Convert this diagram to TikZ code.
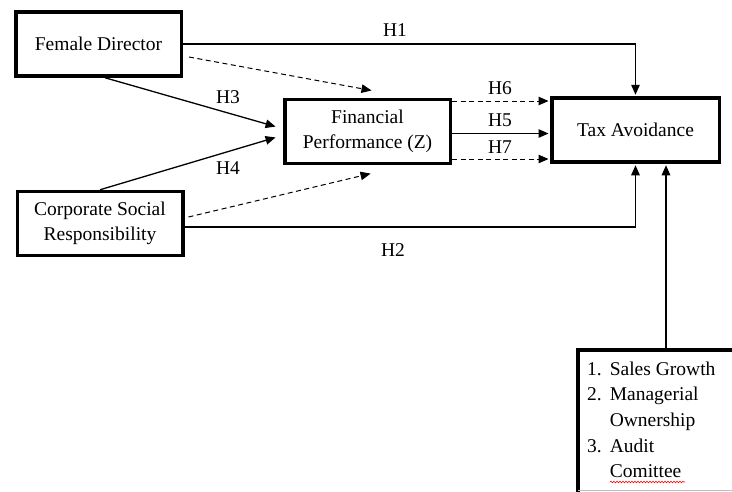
\documentclass[tikz,border=0pt]{standalone}
\usepackage{fontspec}
\setmainfont{Liberation Serif}
\usetikzlibrary{arrows.meta,decorations.pathmorphing}

\begin{document}
\begin{tikzpicture}[x=1pt,y=-1pt,
        thick box/.style={draw, line width=3.5pt, minimum width=165.5pt, minimum height=64pt,
                          align=center, font=\fontsize{19.5}{25}\selectfont},
        plain arrow/.style={line width=1.3pt, shorten >=1.5pt, -{Triangle[length=10pt,width=8.5pt]}},
        dashed arrow/.style={plain arrow, line width=1pt, dash pattern=on 5pt off 3.5pt},
        hyp label/.style={font=\fontsize{19.5}{24}\selectfont, inner sep=0pt}]
        \useasboundingbox (0,0) rectangle (732,491);
        \clip (0,0) rectangle (732,491);

        \node[thick box] (fd)  at (98.5,44)   {Female Director};
        \node[thick box] (csr) at (100,223.5) {Corporate Social\\Responsibility};
        \node[thick box] (fp)  at (367.5,131.5) {Financial\\Performance (Z)};
        \node[thick box, minimum width=167.5pt] (ta) at (635.5,130) {Tax Avoidance};
        \node[draw, line width=4pt, minimum width=176pt, minimum height=182pt, anchor=north west,
              inner sep=0pt] (ctrl) at (576,348) {};
        \node[anchor=base west, inner sep=0pt, font=\fontsize{19.5}{25.7}\selectfont] (items) at (587,375)
              {\begin{tabular}[t]{@{}l@{\hspace{8pt}}l@{}}
                1. & Sales Growth\\
                2. & Managerial\\
                   & Ownership\\
                3. & Audit\\
                   & Comittee
               \end{tabular}};

        \draw[plain arrow] (fd.east) -| (ta.north);
        \draw[plain arrow] ([yshift=-3.5pt]csr.east) -| (ta.south);
        \draw[dashed arrow] ([xshift=6pt,yshift=-13pt]fd.east) -- ([xshift=5.5pt,yshift=7pt]fp.north);
        \draw[dashed arrow] ([xshift=4pt,yshift=6.5pt]csr.east) -- ([xshift=4.5pt,yshift=-8pt]fp.south);
        \draw[plain arrow] ([xshift=6.5pt]fd.south) -- ([xshift=-6pt,yshift=4.5pt]fp.west);
        \draw[plain arrow] (csr.north) -- ([xshift=-6pt,yshift=-5.5pt]fp.west);
        \draw[dashed arrow] ([yshift=30.5pt]fp.east) -- ([yshift=30.5pt]fp.east -| ta.west);
        \draw[plain arrow] ([yshift=-2pt]fp.east) -- ([yshift=-2pt]fp.east -| ta.west);
        \draw[dashed arrow] ([yshift=-27.5pt]fp.east) -- ([yshift=-27.5pt]fp.east -| ta.west);
        \draw[plain arrow] (ctrl.north) -- (ctrl.north |- ta.south);

        \node[hyp label] (h1) at (395,30)  {H1};
        \node[hyp label] (h2) at (393,250) {H2};
        \node[hyp label] (h3) at (228,97)  {H3};
        \node[hyp label] (h4) at (228,168) {H4};
        \node[hyp label] (h5) at (500,120) {H5};
        \node[hyp label] (h6) at (500,88)  {H6};
        \node[hyp label] (h7) at (500,147) {H7};

        \draw[red, line width=0.6pt, decorate, decoration={snake, amplitude=0.8pt, segment length=3pt}]
             (610,482) -- (685,482);
        \draw[gray!50, line width=0.8pt] (578,490.5) -- (732,490.5);
      \end{tikzpicture}
\end{document}
